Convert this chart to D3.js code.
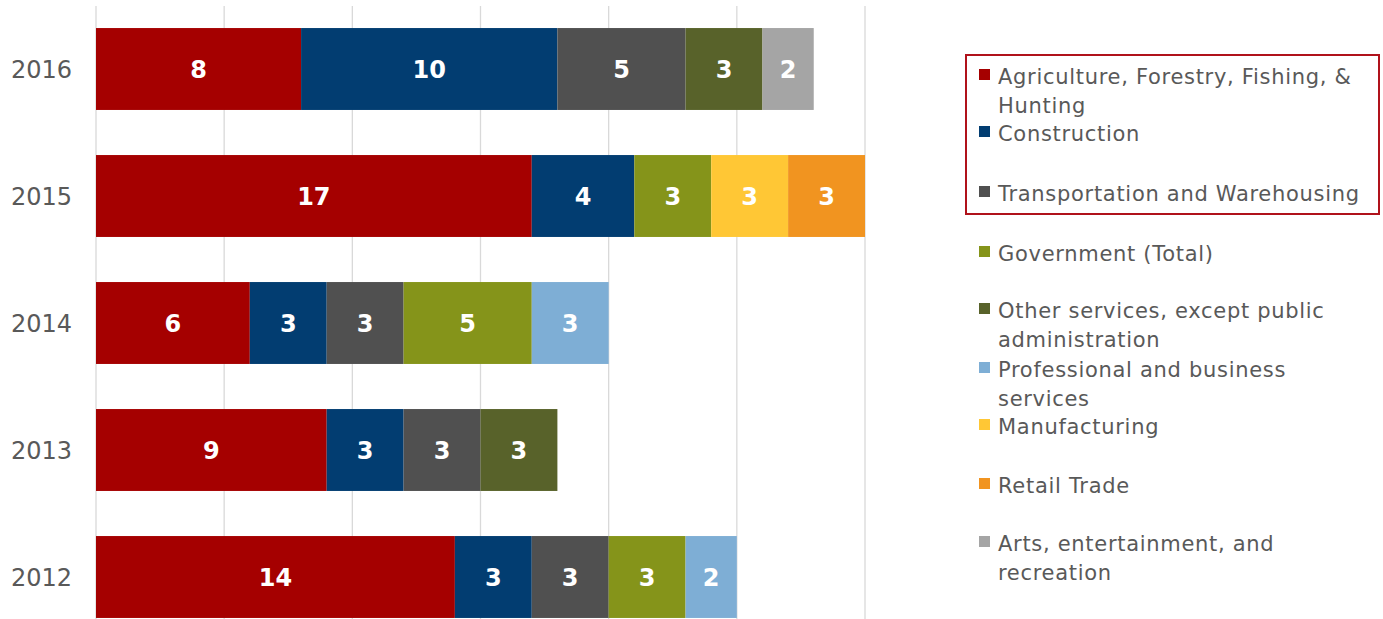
<!DOCTYPE html>
<html><head><meta charset="utf-8">
<script src="https://cdn.jsdelivr.net/npm/d3@7"></script>
<style>html,body{margin:0;padding:0;background:#fff;}svg{display:block;}</style>
</head><body>
<svg id="chart" width="1383" height="619"></svg>
<script>
const years = ["2016","2015","2014","2013","2012"];
const industries = [
  "Agriculture, Forestry, Fishing, & Hunting",
  "Construction",
  "Transportation and Warehousing",
  "Government (Total)",
  "Other services, except public administration",
  "Professional and business services",
  "Manufacturing",
  "Retail Trade",
  "Arts, entertainment, and recreation"
];
const legendLines = [
  ["Agriculture, Forestry, Fishing, &","Hunting"],
  ["Construction"],
  ["Transportation and Warehousing"],
  ["Government (Total)"],
  ["Other services, except public","administration"],
  ["Professional and business","services"],
  ["Manufacturing"],
  ["Retail Trade"],
  ["Arts, entertainment, and","recreation"]
];
const colors = ["#A50000","#023D71","#505050","#85941A","#58622A","#7EAED5","#FFC735","#F19420","#A5A5A5"];
// values per industry, aligned with years (2016..2012); 0 = absent
const agriculture    = [8, 17, 6, 9, 14];
const construction   = [10, 4, 3, 3, 3];
const transportation = [5, 0, 3, 3, 3];
const government     = [0, 3, 5, 0, 3];
const otherServices  = [3, 0, 0, 3, 0];
const professional   = [0, 0, 3, 0, 2];
const manufacturing  = [0, 3, 0, 0, 0];
const retail         = [0, 3, 0, 0, 0];
const arts           = [2, 0, 0, 0, 0];
const xTicks = [0, 5, 10, 15, 20, 25, 30];

const series = [agriculture, construction, transportation, government, otherServices, professional, manufacturing, retail, arts];
const rows = years.map((y, i) => {
  const r = {year: y};
  industries.forEach((k, j) => r[k] = series[j][i]);
  return r;
});

const svg = d3.select("#chart");
const x = d3.scaleLinear().domain([0, 30]).range([96, 865]);
const y = d3.scaleBand().domain(years).range([5.5, 640.5]).paddingInner(0.355).paddingOuter(0.1775);

// gridlines
svg.append("g").selectAll("line").data(xTicks).join("line")
  .attr("x1", d => x(d)).attr("x2", d => x(d))
  .attr("y1", 6).attr("y2", 619)
  .attr("stroke", "#D9D9D9").attr("stroke-width", 1.3);

const stack = d3.stack().keys(industries)(rows);
const g = svg.append("g");
stack.forEach((layer, j) => {
  const lg = g.append("g");
  layer.forEach(d => {
    const v = d[1] - d[0];
    if (v <= 0) return;
    lg.append("rect")
      .attr("x", x(d[0])).attr("y", y(d.data.year))
      .attr("width", x(d[1]) - x(d[0])).attr("height", y.bandwidth())
      .attr("fill", colors[j]);
    lg.append("text")
      .attr("x", (x(d[0]) + x(d[1])) / 2).attr("y", y(d.data.year) + y.bandwidth() / 2)
      .attr("dy", "0.36em").attr("text-anchor", "middle")
      .attr("font-family", "DejaVu Sans").attr("font-weight", "bold").attr("font-size", 24)
      .attr("fill", "#fff").text(v);
  });
});

// y axis labels
const yAxis = svg.append("g").attr("transform", "translate(86,0)")
  .call(d3.axisLeft(y).tickSize(0).tickPadding(12));
yAxis.select(".domain").remove();
yAxis.selectAll("text").attr("font-family", "DejaVu Sans").attr("font-size", 24).attr("fill", "#595959").attr("dy", "0.36em").attr("x", -14);

// legend
const legY = [76, 133, 193, 253, 310, 369, 426, 485, 543];
const leg = svg.append("g");
industries.forEach((k, i) => {
  const gy = legY[i];
  leg.append("rect").attr("x", 979).attr("y", gy - 7).attr("width", 11).attr("height", 11).attr("fill", colors[i]);
  const t = leg.append("text").attr("x", 998).attr("y", gy).attr("dy", "0.36em")
    .attr("font-family", "DejaVu Sans").attr("font-size", 21).attr("letter-spacing", 0.7).attr("fill", "#595959");
  legendLines[i].forEach((ln, li) => {
    t.append("tspan").attr("x", 998).attr("dy", li === 0 ? "0.36em" : 29).text(ln);
  });
});
leg.append("rect").attr("x", 966).attr("y", 55).attr("width", 413).attr("height", 159)
  .attr("fill", "none").attr("stroke", "#B0121B").attr("stroke-width", 2);
</script>
</body></html>
